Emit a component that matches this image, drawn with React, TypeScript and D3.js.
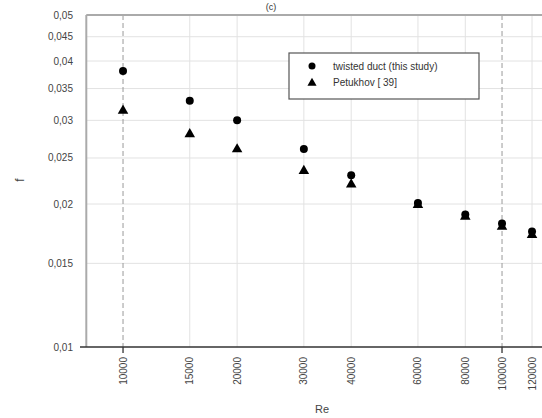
import React, { useEffect, useRef } from 'react';
import * as d3 from 'd3';

const reValues = [10000, 15000, 20000, 30000, 40000, 60000, 80000, 100000, 120000];
const twistedDuct = [0.0381, 0.033, 0.030, 0.0261, 0.0230, 0.0201, 0.0190, 0.0182, 0.0175];
const petukhov = [0.0316, 0.0282, 0.0262, 0.0236, 0.0221, 0.0200, 0.0189, 0.0180, 0.0173];
const yTicks = [0.01, 0.015, 0.02, 0.025, 0.03, 0.035, 0.04, 0.045, 0.05];
const xTicks = [10000, 15000, 20000, 30000, 40000, 60000, 80000, 100000, 120000];
const majorX = [10000, 100000];
const legendLabels = ['twisted duct (this study)', 'Petukhov [ 39]'];

const App: React.FC = () => {
  const svgRef = useRef<SVGSVGElement>(null);

  useEffect(() => {
    if (!svgRef.current) return;
    const width = 542;
    const svg = d3.select(svgRef.current);
    svg.selectAll('*').remove();

    const x = d3.scaleLog().domain([8000, 130000]).range([86.3, 545.2]);
    const y = d3.scaleLog().domain([0.01, 0.05]).range([347, 15]);
    const left = 86.3;
    const font = 'Liberation Sans, Arial, sans-serif';
    const fmt = (v: number) => String(+v.toFixed(3)).replace('.', ',');

    svg.append('text').attr('x', 271).attr('y', 10).attr('text-anchor', 'middle')
      .attr('font-family', font).attr('font-size', 9).attr('fill', '#333').text('(c)');

    // horizontal grid
    svg.append('g').selectAll('line').data(yTicks.slice(1)).join('line')
      .attr('x1', left).attr('x2', width)
      .attr('y1', d => y(d)).attr('y2', d => y(d))
      .attr('stroke', '#e2e2e2').attr('stroke-width', 1);

    // vertical grid
    svg.append('g').selectAll('line').data(xTicks).join('line')
      .attr('x1', d => x(d)).attr('x2', d => x(d))
      .attr('y1', 15).attr('y2', 347)
      .attr('stroke', d => majorX.includes(d) ? '#999' : '#e2e2e2')
      .attr('stroke-dasharray', d => majorX.includes(d) ? '5,3' : null)
      .attr('stroke-width', 1);

    // frame
    svg.append('line').attr('x1', left).attr('x2', width).attr('y1', 15).attr('y2', 15)
      .attr('stroke', '#aaa').attr('stroke-width', 2);
    svg.append('line').attr('x1', left).attr('x2', left).attr('y1', 15).attr('y2', 347)
      .attr('stroke', '#aaa').attr('stroke-width', 2);
    svg.append('line').attr('x1', 80).attr('x2', width).attr('y1', 347).attr('y2', 347)
      .attr('stroke', '#333').attr('stroke-width', 1.3);

    // major x ticks
    svg.append('g').selectAll('line').data(majorX).join('line')
      .attr('x1', d => x(d)).attr('x2', d => x(d)).attr('y1', 347).attr('y2', 353)
      .attr('stroke', '#333').attr('stroke-width', 1.3);

    // y labels
    svg.append('g').selectAll('text').data(yTicks).join('text')
      .attr('x', 73).attr('y', d => y(d) + 3.5).attr('text-anchor', 'end')
      .attr('font-family', font).attr('font-size', 10)
      .attr('fill', '#444').text(d => fmt(d));

    // x labels
    svg.append('g').selectAll('text').data(xTicks).join('text')
      .attr('transform', d => `translate(${x(d) + 3.5},357) rotate(-90)`)
      .attr('text-anchor', 'end')
      .attr('font-family', font).attr('font-size', 10)
      .attr('fill', '#444').text(d => String(d));

    svg.append('text').attr('x', 322).attr('y', 413).attr('text-anchor', 'middle')
      .attr('font-family', font).attr('font-size', 11)
      .attr('fill', '#444').text('Re');
    svg.append('text').attr('transform', 'translate(24,180) rotate(-90)').attr('text-anchor', 'middle')
      .attr('font-family', font).attr('font-size', 12)
      .attr('fill', '#444').text('f');

    const tri = d3.symbol().type(d3.symbolTriangle).size(48);

    // data
    svg.append('g').selectAll('circle').data(reValues).join('circle')
      .attr('cx', d => x(d)).attr('cy', (d, i) => y(twistedDuct[i]))
      .attr('r', 4).attr('fill', '#000');
    svg.append('g').selectAll('path').data(reValues).join('path')
      .attr('transform', (d, i) => `translate(${x(d)},${y(petukhov[i]) + 1})`)
      .attr('d', tri).attr('fill', '#000');

    // legend
    const lg = svg.append('g');
    lg.append('rect').attr('x', 289).attr('y', 53).attr('width', 190).attr('height', 46)
      .attr('fill', '#fff').attr('stroke', '#555').attr('stroke-width', 1.2);
    lg.append('circle').attr('cx', 312).attr('cy', 66).attr('r', 3.5).attr('fill', '#000');
    lg.append('path').attr('transform', 'translate(312,83)')
      .attr('d', d3.symbol().type(d3.symbolTriangle).size(36)).attr('fill', '#000');
    lg.selectAll('text.lab').data(legendLabels).join('text')
      .attr('class', 'lab')
      .attr('x', 333).attr('y', (d, i) => 70 + i * 16)
      .attr('font-family', font).attr('font-size', 10)
      .attr('fill', '#333').text(d => d);
  }, []);

  return (
    <svg ref={svgRef} width={542} height={418}
      style={{ position: 'absolute', left: 0, top: 0, background: '#fff' }} />
  );
};

export default App;
